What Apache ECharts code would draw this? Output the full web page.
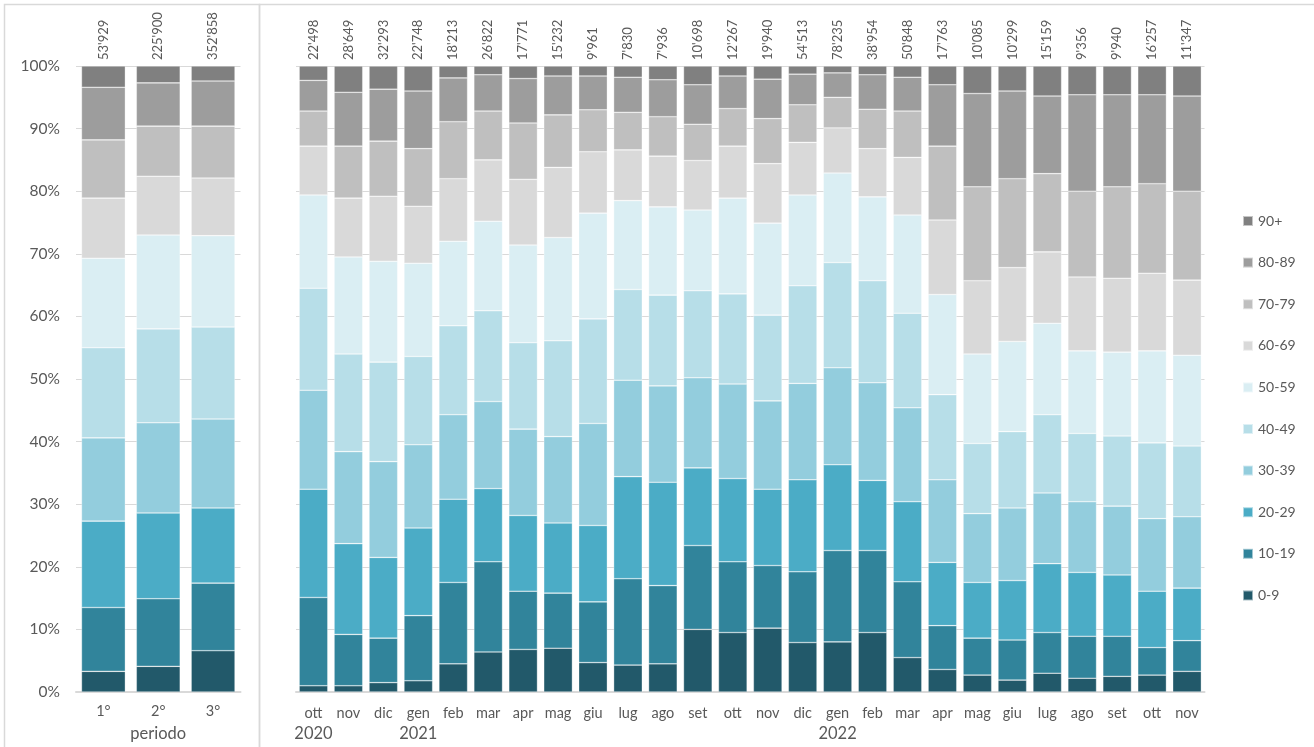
<!DOCTYPE html>
<html>
<head>
<meta charset="utf-8">
<script src="https://cdn.jsdelivr.net/npm/echarts@6/dist/echarts.min.js"></script>
<style>
html,body{margin:0;padding:0;background:#fff;}
#c{width:1314px;height:747px;}
</style>
</head>
<body>
<div id="c"></div>
<script>
// ---- data ----
const ageGroups = ['0-9','10-19','20-29','30-39','40-49','50-59','60-69','70-79','80-89','90+'];
const ageColors = ['#22596a','#31849b','#4bacc6','#93cddd','#b7dee8','#daeef3','#d9d9d9','#bfbfbf','#9d9d9d','#808080'];

const periods = ['1°','2°','3°'];
const periodTotals = ["53'929","225'900","352'858"];
// shares (%) per age group, one row per age group, one value per period
const periodShares = [
  [3.3, 4.1, 6.6],
  [10.2, 10.8, 10.8],
  [13.8, 13.7, 12.0],
  [13.3, 14.4, 14.2],
  [14.4, 15.0, 14.7],
  [14.3, 15.0, 14.6],
  [9.6, 9.4, 9.2],
  [9.3, 8.0, 8.3],
  [8.4, 6.9, 7.2],
  [3.4, 2.7, 2.4]
];

const months = ['ott','nov','dic','gen','feb','mar','apr','mag','giu','lug','ago','set','ott',
                'nov','dic','gen','feb','mar','apr','mag','giu','lug','ago','set','ott','nov'];
const monthYears = ['2020','','','2021','','','','','','','','','','','','2022','','','','','','','','','',''];
const monthTotals = ["22'498","28'649","32'293","22'748","18'213","26'822","17'771","15'232","9'961","7'830",
                     "7'936","10'698","12'267","19'940","54'513","78'235","38'954","50'848","17'763","10'085",
                     "10'299","15'159","9'356","9'940","16'257","11'347"];
// shares (%) per age group, one row per age group, one value per month
const monthShares = [
  [1.0,1.0,1.5,1.8,4.5,6.4,6.8,7.0,4.7,4.3,4.5,10.0,9.5,10.2,7.9,8.0,9.5,5.5,3.6,2.7,1.9,3.0,2.2,2.5,2.7,3.3],
  [14.1,8.2,7.1,10.4,13.0,14.4,9.3,8.8,9.7,13.8,12.5,13.4,11.3,10.0,11.3,14.6,13.1,12.1,7.0,5.9,6.4,6.5,6.7,6.4,4.4,4.9],
  [17.3,14.5,12.9,14.0,13.3,11.7,12.1,11.2,12.2,16.3,16.5,12.4,13.3,12.2,14.7,13.7,11.2,12.8,10.1,8.9,9.5,11.0,10.2,9.8,9.0,8.4],
  [15.8,14.7,15.3,13.3,13.5,13.9,13.8,13.8,16.3,15.4,15.4,14.4,15.1,14.1,15.4,15.5,15.6,15.0,13.2,11.0,11.6,11.3,11.3,11.0,11.6,11.4],
  [16.3,15.6,15.9,14.1,14.2,14.5,13.8,15.3,16.7,14.5,14.5,13.9,14.4,13.7,15.6,16.8,16.3,15.1,13.6,11.2,12.2,12.5,10.9,11.2,12.1,11.3],
  [14.9,15.5,16.1,14.9,13.5,14.3,15.6,16.5,16.9,14.2,14.1,12.9,15.3,14.7,14.5,14.3,13.4,15.7,16.0,14.3,14.4,14.6,13.2,13.4,14.7,14.5],
  [7.8,9.4,10.4,9.1,10.0,9.8,10.5,11.2,9.8,8.1,8.1,7.9,8.3,9.5,8.4,7.2,7.7,9.2,11.9,11.7,11.8,11.4,11.8,11.8,12.4,12.0],
  [5.6,8.3,8.8,9.2,9.1,7.8,9.0,8.4,6.7,6.0,6.3,5.8,6.0,7.2,6.0,4.9,6.3,7.4,11.8,15.0,14.2,12.5,13.7,14.6,14.3,14.2],
  [4.9,8.6,8.3,9.2,7.0,5.8,7.1,6.2,5.4,5.6,5.9,6.3,5.2,6.3,4.9,3.9,5.5,5.4,9.8,14.9,14.0,12.4,15.4,14.7,14.2,15.2],
  [2.3,4.2,3.7,4.0,1.9,1.4,2.0,1.6,1.6,1.8,2.2,3.0,1.6,2.1,1.3,1.1,1.4,1.8,3.0,4.4,4.0,4.8,4.6,4.6,4.6,4.8]
];
const yTicks = [0,10,20,30,40,50,60,70,80,90,100];

// ---- chart ----
const FONT = 'Lato, "Open Sans", sans-serif';
const TXT = '#595959';
const chart = echarts.init(document.getElementById('c'), null, {renderer:'canvas'});

function makeSeries(sharesRows, totals, axisIdx) {
  return ageGroups.map((g, i) => ({
    name: g,
    type: 'bar',
    stack: 'p' + axisIdx,
    xAxisIndex: axisIdx,
    yAxisIndex: axisIdx,
    barCategoryGap: axisIdx === 0 ? '20%' : '18%',
    data: sharesRows[i],
    itemStyle: { color: ageColors[i], borderColor: 'rgba(255,255,255,0.55)', borderWidth: 0.6 },
    emphasis: { disabled: true },
    label: i === ageGroups.length - 1 ? {
      show: true, position: 'top', rotate: 90, align: 'left', verticalAlign: 'middle',
      distance: 6, color: TXT, fontFamily: FONT, fontSize: 13,
      formatter: p => totals[p.dataIndex]
    } : { show: false }
  }));
}

const yAxisCommon = {
  type: 'value', min: 0, max: 100, interval: 10,
  axisLine: { show: false }, axisTick: { show: false },
  splitLine: { lineStyle: { color: '#d9d9d9', width: 1 } }
};

const option = {
  backgroundColor: '#fff',
  animation: false,
  textStyle: { fontFamily: FONT },
  graphic: [
    { type: 'rect', shape: { x: 4.5, y: 4.5, width: 255, height: 770 }, style: { fill: 'none', stroke: '#d9d9d9', lineWidth: 1.5 }, silent: true },
    { type: 'rect', shape: { x: 259.5, y: 4.5, width: 1080, height: 770 }, style: { fill: 'none', stroke: '#d9d9d9', lineWidth: 1.5 }, silent: true }
  ],
  legend: {
    orient: 'vertical', left: 1237, top: 209,
    itemWidth: 10, itemHeight: 10, itemGap: 27.6,
    icon: 'rect',
    data: ageGroups.slice().reverse(),
    textStyle: { color: TXT, fontSize: 14, fontFamily: FONT },
    selectedMode: false
  },
  grid: [
    { left: 76, top: 66, width: 164.5, height: 626, containLabel: false, outerBoundsMode: 'none' },
    { left: 296, top: 66, width: 908.5, height: 626, containLabel: false, outerBoundsMode: 'none' }
  ],
  xAxis: [
    {
      type: 'category', gridIndex: 0, data: periods,
      axisLine: { lineStyle: { color: '#d9d9d9', width: 2 } }, axisTick: { show: false },
      axisLabel: { color: TXT, fontSize: 14.5, fontFamily: FONT, margin: 12 },
      name: 'periodo', nameLocation: 'middle', nameGap: 33,
      nameTextStyle: { color: TXT, fontSize: 16.5, fontFamily: FONT }
    },
    {
      type: 'category', gridIndex: 1, data: months,
      axisLine: { lineStyle: { color: '#d9d9d9', width: 2 } }, axisTick: { show: false },
      axisLabel: {
        color: TXT, fontFamily: FONT, margin: 12, interval: 0,
        formatter: (v, idx) => monthYears[idx] ? '{m|' + v + '}\n{y|' + monthYears[idx] + '}' : '{m|' + v + '}',
        rich: {
          m: { fontSize: 14.5, color: TXT, fontFamily: FONT, lineHeight: 19 },
          y: { fontSize: 16.5, color: TXT, fontFamily: FONT, lineHeight: 22 }
        }
      }
    }
  ],
  yAxis: [
    Object.assign({}, yAxisCommon, {
      gridIndex: 0,
      axisLabel: { color: TXT, fontSize: 15.5, fontFamily: FONT, margin: 16, formatter: '{value}%' }
    }),
    Object.assign({}, yAxisCommon, {
      gridIndex: 1,
      axisLabel: { show: false }
    })
  ],
  series: makeSeries(periodShares, periodTotals, 0).concat(makeSeries(monthShares, monthTotals, 1))
};
chart.setOption(option);
</script>
</body>
</html>
